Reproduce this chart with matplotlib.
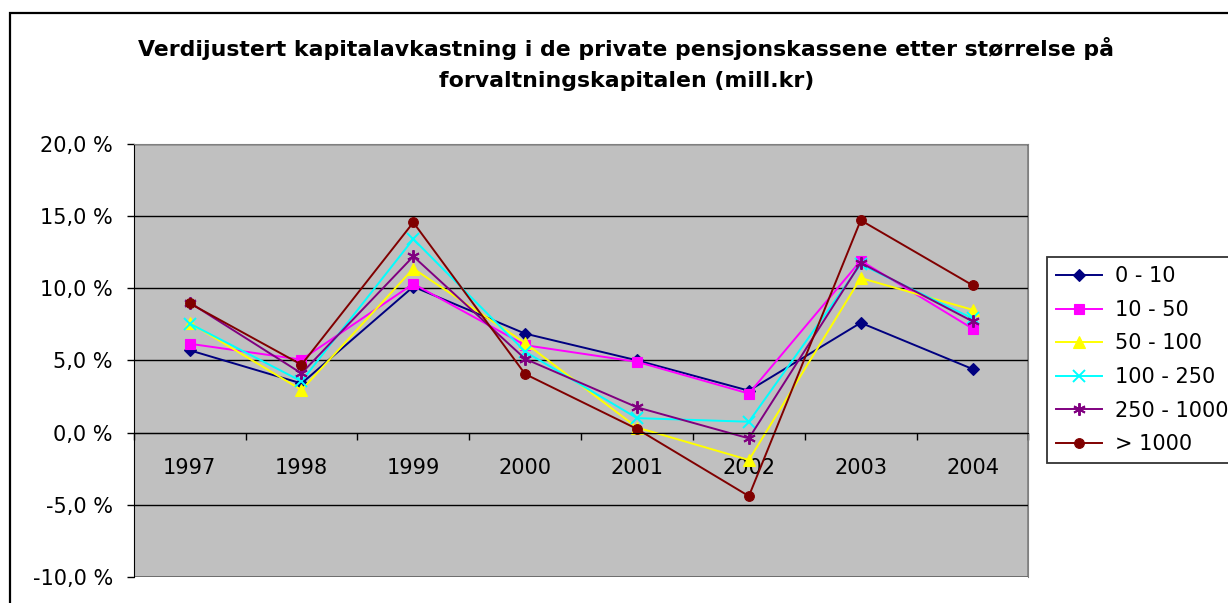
import matplotlib.pyplot as plt
from matplotlib.patches import Rectangle
from matplotlib.ticker import FuncFormatter

plt.rcParams['font.family'] = ['DejaVu Sans']

years = ['1997', '1998', '1999', '2000', '2001', '2002', '2003', '2004']
labels = ['0 - 10', '10 - 50', '50 - 100', '100 - 250', '250 - 1000', '> 1000']

# avkastning i prosent, lest av figuren
s_0_10 = [5.7, 3.4, 10.1, 6.85, 5.0, 2.9, 7.6, 4.4]
s_10_50 = [6.15, 5.05, 10.3, 6.05, 4.9, 2.7, 11.9, 7.2]
s_50_100 = [7.6, 2.95, 11.35, 6.2, 0.35, -1.9, 10.7, 8.5]
s_100_250 = [7.55, 3.55, 13.4, 5.6, 1.0, 0.75, 11.65, 7.9]
s_250_1000 = [9.0, 4.1, 12.2, 5.1, 1.75, -0.4, 11.75, 7.7]
s_over_1000 = [8.95, 4.7, 14.55, 4.05, 0.25, -4.4, 14.7, 10.2]

series = [s_0_10, s_10_50, s_50_100, s_100_250, s_250_1000, s_over_1000]
colors = ['#000080', '#FF00FF', '#FFFF00', '#00FFFF', '#800080', '#800000']
markers = ['D', 's', '^', 'x', (6, 2, 0), 'o']
msizes = [6, 7, 8, 8, 9, 7]

fig = plt.figure(figsize=(12.28, 6.03), dpi=100)

# ytre ramme rundt diagrammet
fig.patches.append(Rectangle((10 / 1228, -0.1), 1.2, 1 - 13.5 / 603 + 0.1,
                             transform=fig.transFigure, fill=False,
                             edgecolor='black', linewidth=1.6))

ax = fig.add_axes([133.7 / 1228, 1 - 577 / 603, (1028.5 - 133.7) / 1228, (577 - 143.7) / 603])
ax.set_facecolor('#C0C0C0')

x = list(range(len(years)))
for s, c, m, ms, lab in zip(series, colors, markers, msizes, labels):
    ax.plot(x, [v / 100 for v in s], color=c, marker=m, markersize=ms,
            linewidth=1.4, markeredgewidth=1.4 if m in ('x', (6, 2, 0)) else 0.8,
            label=lab)

ax.set_xlim(-0.5, 7.5)
ax.set_ylim(-0.10, 0.20)
ax.set_yticks([-0.10, -0.05, 0, 0.05, 0.10, 0.15, 0.20])
ax.yaxis.set_major_formatter(FuncFormatter(lambda v, p: f'{v * 100:.1f} %'.replace('.', ',')))
ax.grid(axis='y', color='black', linewidth=1)
ax.set_axisbelow(True)

ax.spines['bottom'].set_position(('data', 0))
ax.spines['bottom'].set_color('black')
ax.spines['left'].set_color('black')
ax.spines['top'].set_color('#808080')
ax.spines['right'].set_color('#808080')
ax.add_patch(Rectangle((0, 0), 1, 1, transform=ax.transAxes, fill=False,
                       edgecolor='#808080', linewidth=1.2, zorder=0.5))

ax.set_xticks(x)
ax.set_xticklabels(years)
ax.set_xticks([i + 0.5 for i in range(-1, 8)], minor=True)
ax.tick_params(axis='x', which='major', length=0, pad=18.5, labelsize=15)
ax.tick_params(axis='x', which='minor', length=5, direction='out', width=1)
ax.tick_params(axis='y', length=5, width=1, pad=10, labelsize=15)

fig.text(0.51, 1 - 48 / 603, 'Verdijustert kapitalavkastning i de private pensjonskassene etter størrelse på',
         ha='center', va='center', fontsize=15.8, fontweight='bold')
fig.text(0.51, 1 - 81 / 603, 'forvaltningskapitalen (mill.kr)',
         ha='center', va='center', fontsize=15.8, fontweight='bold')

leg = fig.legend(loc='upper left', bbox_to_anchor=(1047 / 1228, 1 - 257 / 603),
                 fontsize=15, frameon=True, fancybox=False, edgecolor='black',
                 handlelength=2.2, handletextpad=0.6, labelspacing=0.65,
                 borderpad=0.45, borderaxespad=0)
leg.get_frame().set_linewidth(1.3)

plt.savefig('out.png', dpi=100)
